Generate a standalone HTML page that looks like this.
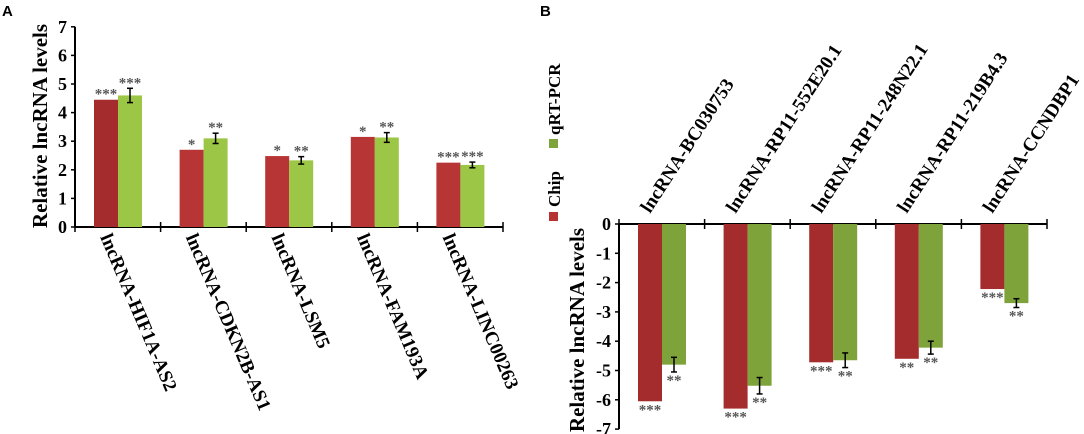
<!DOCTYPE html>
<html><head><meta charset="utf-8"><style>
html,body{margin:0;padding:0;background:#fff;}
svg{display:block;font-family:"Liberation Serif",serif;font-weight:bold;}
</style></head><body>
<svg id="c" width="1084" height="434" viewBox="0 0 1084 434">
<text x="2" y="16" font-family="Liberation Sans" font-size="15">A</text>
<text x="540" y="16" font-family="Liberation Sans" font-size="15">B</text>
<text transform="translate(47,126) rotate(-90)" text-anchor="middle" font-size="21">Relative lncRNA levels</text>
<text transform="translate(584,330) rotate(-90)" text-anchor="middle" font-size="21">Relative lncRNA levels</text>
<g>
<rect x="549" y="212" width="9" height="9" fill="#b83232"/>
<text transform="translate(560,207) rotate(-90)" font-size="17">Chip</text>
<rect x="549" y="139" width="9" height="9" fill="#7ea33a"/>
<text transform="translate(560,135) rotate(-90)" font-size="17">qRT-PCR</text>
</g>
<g id="ga"></g><g id="gb"></g>
</svg>
<script>
const catsA=["lncRNA-HIF1A-AS2","lncRNA-CDKN2B-AS1","lncRNA-LSM5","lncRNA-FAM193A","lncRNA-LINC00263"];
const chipA=[4.45,2.7,2.48,3.15,2.25];
const pcrA=[4.6,3.1,2.33,3.13,2.17];
const errA=[0.25,0.18,0.13,0.17,0.1];
const sigChipA=["***","*","*","*","***"];
const sigPcrA=["***","**","**","**","***"];
const ticksA=[0,1,2,3,4,5,6,7];
const catsB=["lncRNA-BC030753","lncRNA-RP11-552E20.1","lncRNA-RP11-248N22.1","lncRNA-RP11-219B4.3","lncRNA-CCNDBP1"];
const chipB=[-6.05,-6.3,-4.72,-4.6,-2.22];
const pcrB=[-4.8,-5.52,-4.65,-4.22,-2.7];
const errB=[0.25,0.28,0.25,0.22,0.15];
const sigChipB=["***","***","***","**","***"];
const sigPcrB=["**","**","**","**","**"];
const ticksB=[0,-1,-2,-3,-4,-5,-6,-7];
const NS="http://www.w3.org/2000/svg";
function mk(p,t,a){const e=document.createElementNS(NS,t);for(const k in a)e.setAttribute(k,a[k]);p.appendChild(e);return e;}
function panel(g,o){
 const {x0,y0,unit,cats,chip,pcr,err,sc,sp,ticks,neg,red,green,red2}=o;
 const gw=85.6;
 const Y=v=>y0-v*unit;
 const yMin=Y(Math.max(...ticks)), yMax=Y(Math.min(...ticks));
 let ax=mk(g,'line',{x1:x0,y1:yMin,x2:x0,y2:yMax,stroke:'#000','stroke-width':2});
 
 ticks.forEach(t=>{
  mk(g,'line',{x1:x0-4,x2:x0,y1:Y(t),y2:Y(t),stroke:'#000','stroke-width':1.5});
  const tx=mk(g,'text',{x:x0-8,y:Y(t)+6,'text-anchor':'end','font-size':18});tx.textContent=t;
  
 });
 const xa=mk(g,'line',{x1:x0,x2:x0+gw*cats.length,y1:y0,y2:y0,stroke:'#000','stroke-width':2});
 
 for(let i=0;i<=cats.length;i++){const xx=x0+gw*i;mk(g,'line',{x1:xx,x2:xx,y1:y0-5,y2:y0+5,stroke:'#000','stroke-width':1.5});}
 cats.forEach((c,i)=>{
  const gx=x0+gw*i;
  [[chip[i],gx+19,i==0&&red2?red2:red,sc[i],0,'bar-chip-'+i],[pcr[i],gx+43,green,sp[i],err[i],'bar-qrtpcr-'+i]].forEach(([v,bx,col,s,e,nm])=>{
   const top=Math.min(Y(v),y0),h=Math.abs(Y(v)-y0);
   const r=mk(g,'rect',{x:bx,y:top,width:24,height:h,fill:col});
   
   const end=Y(v);let ly;
   if(e){const a=Y(v+e),b=Y(v-e);mk(g,'line',{x1:bx+12,x2:bx+12,y1:a,y2:b,stroke:'#000','stroke-width':1.5});
    mk(g,'line',{x1:bx+9,x2:bx+15,y1:a,y2:a,stroke:'#000','stroke-width':1.5});mk(g,'line',{x1:bx+9,x2:bx+15,y1:b,y2:b,stroke:'#000','stroke-width':1.5});}
   if(!neg){ly=Y(v+e)-1;}else{ly=(e?Y(v-e):end)+13;}
   const st=mk(g,'text',{x:bx+12,y:ly,'text-anchor':'middle','font-size':15,fill:'#555'});st.textContent=s;
   
  });
  let lb;
  if(!neg){lb=mk(g,'text',{transform:`translate(${gx+25},${y0+10}) rotate(67)`,'font-size':19});}
  else{lb=mk(g,'text',{transform:`translate(${gx+31},${y0-10}) rotate(-57)`,'font-size':19});}
  lb.textContent=c;
 });
}
panel(document.getElementById('ga'),{x0:75,y0:227,unit:28.6,cats:catsA,chip:chipA,pcr:pcrA,err:errA,sc:sigChipA,sp:sigPcrA,ticks:ticksA,neg:false,red:'#b83535',red2:'#a52c2c',green:'#9cc645'});
panel(document.getElementById('gb'),{x0:619,y0:224,unit:29.3,cats:catsB,chip:chipB,pcr:pcrB,err:errB,sc:sigChipB,sp:sigPcrB,ticks:ticksB,neg:true,red:'#a52c2c',green:'#7ea33a'});
</script>
</body></html>
